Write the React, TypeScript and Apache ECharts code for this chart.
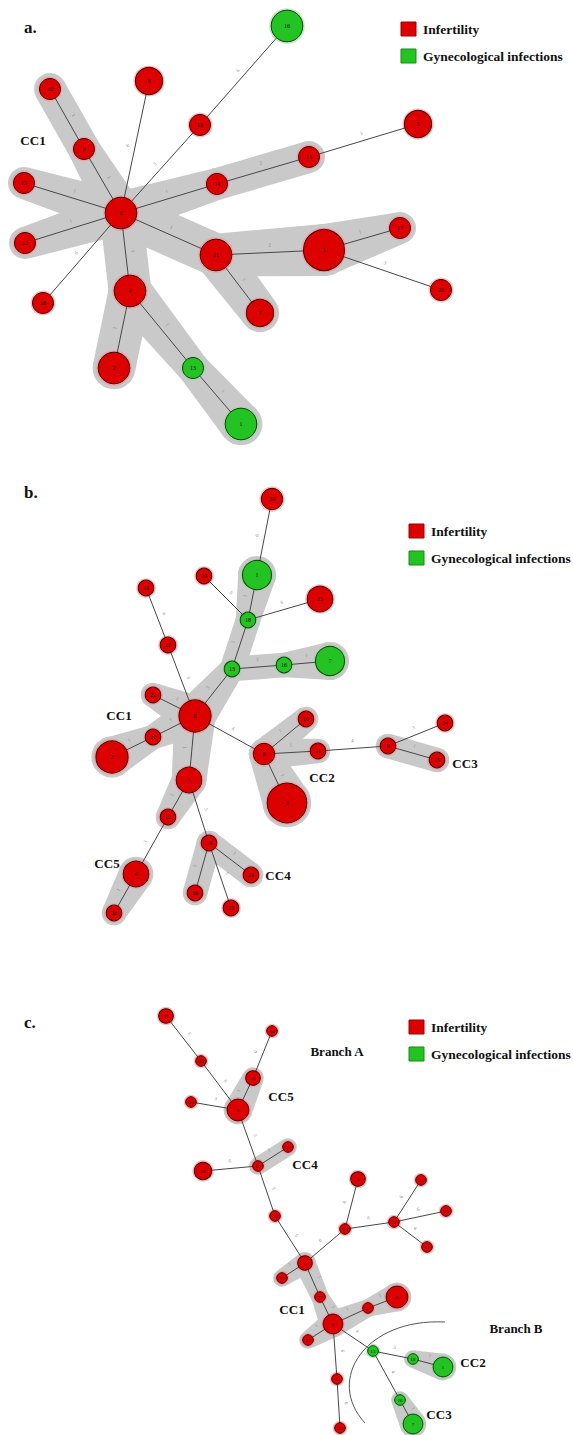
import React, { useEffect, useRef } from "react";
import * as echarts from "echarts";

const W = 573;
const H = 1435;

// [id, x, y, isolates, group]  group: R = Infertility, G = Gynecological infections
const nodesA: [string, number, number, number, string][] = [
  ["16", 287, 26, 3, "G"], ["8", 149, 81, 2, "R"], ["10", 50, 89, 1, "R"], ["9", 84, 149, 1, "R"],
  ["19", 200, 125, 1, "R"], ["15", 24, 183, 1, "R"], ["14", 217, 184, 1, "R"], ["6", 121, 213, 3, "R"],
  ["5", 418, 124, 2, "R"], ["11", 309, 157, 1, "R"], ["12", 25, 243, 1, "R"], ["18", 43, 303, 1, "R"],
  ["21", 216, 255, 3, "R"], ["4", 130, 291, 3, "R"], ["7", 260, 313, 2, "R"], ["2", 114, 368, 3, "R"],
  ["13", 193, 368, 1, "G"], ["1", 241, 424, 3, "G"], ["3", 324, 250, 6, "R"], ["17", 400, 228, 1, "R"],
  ["20", 441, 290, 1, "R"],
];
// [source, target, distance, inClonalComplex]
const edgesA: [string, string, number, number][] = [
  ["6", "9", 1, 1], ["9", "10", 1, 1], ["6", "8", 6, 0], ["6", "19", 3, 0], ["19", "16", 6, 0],
  ["6", "15", 1, 1], ["6", "14", 1, 1], ["14", "11", 2, 1], ["11", "5", 3, 0], ["6", "12", 1, 1],
  ["6", "18", 6, 0], ["6", "21", 1, 1], ["21", "3", 2, 1], ["3", "17", 1, 1], ["3", "20", 3, 0],
  ["21", "7", 1, 1], ["6", "4", 1, 1], ["4", "2", 1, 1], ["4", "13", 1, 1], ["13", "1", 1, 1],
];

const nodesB: [string, number, number, number, string][] = [
  ["30", 272, 499, 2, "R"], ["1", 257, 575, 4, "G"], ["20", 204, 576, 1, "R"], ["14", 146, 588, 1, "R"],
  ["25", 320, 599, 3, "R"], ["18", 248, 620, 1, "G"], ["27", 168, 645, 1, "R"], ["13", 232, 669, 1, "G"],
  ["16", 284, 665, 1, "G"], ["7", 330, 661, 4, "G"], ["22", 153, 695, 1, "R"], ["6", 195, 716, 5, "R"],
  ["21", 153, 737, 1, "R"], ["2", 112, 757, 5, "R"], ["5", 189, 780, 3, "R"], ["8", 264, 754, 2, "R"],
  ["10", 306, 719, 1, "R"], ["11", 318, 751, 1, "R"], ["3", 287, 803, 8, "R"], ["12", 168, 817, 1, "R"],
  ["19", 209, 843, 1, "R"], ["29", 251, 875, 1, "R"], ["26", 195, 893, 1, "R"], ["23", 231, 908, 1, "R"],
  ["4", 136, 874, 3, "R"], ["28", 114, 913, 1, "R"], ["9", 388, 746, 1, "R"], ["24", 445, 723, 1, "R"],
  ["15", 437, 760, 1, "R"],
];
const edgesB: [string, string, number, number][] = [
  ["30", "1", 6, 0], ["1", "18", 1, 1], ["18", "20", 6, 0], ["18", "25", 6, 0], ["18", "13", 1, 1],
  ["13", "16", 2, 1], ["16", "7", 1, 1], ["13", "6", 3, 1], ["14", "27", 6, 0], ["27", "6", 6, 0],
  ["22", "6", 1, 1], ["6", "21", 1, 1], ["21", "2", 1, 1], ["6", "5", 1, 1], ["5", "12", 1, 1],
  ["6", "8", 4, 0], ["8", "10", 1, 1], ["8", "11", 1, 1], ["8", "3", 1, 1], ["11", "9", 4, 0],
  ["9", "24", 3, 0], ["9", "15", 1, 1], ["12", "4", 3, 0], ["4", "28", 1, 1], ["5", "19", 5, 0],
  ["19", "26", 1, 1], ["19", "29", 1, 1], ["19", "23", 5, 0],
];

const nodesC: [string, number, number, number, string][] = [
  ["27", 166, 1016, 2, "R"], ["14", 272, 1031, 1, "R"], ["24", 201, 1061, 1, "R"], ["28", 253, 1078, 2, "R"],
  ["20", 191, 1102, 1, "R"], ["8", 238, 1110, 5, "R"], ["29", 288, 1147, 1, "R"], ["19", 258, 1166, 1, "R"],
  ["26", 203, 1171, 3, "R"], ["23", 275, 1216, 1, "R"], ["3", 358, 1179, 2, "R"], ["10", 345, 1229, 1, "R"],
  ["9", 394, 1222, 1, "R"], ["25", 421, 1180, 1, "R"], ["15", 446, 1211, 1, "R"], ["11", 427, 1247, 1, "R"],
  ["5", 305, 1263, 2, "R"], ["12", 282, 1278, 1, "R"], ["21", 320, 1297, 1, "R"], ["2", 397, 1297, 5, "R"],
  ["17", 368, 1308, 1, "R"], ["6", 333, 1324, 4, "R"], ["22", 308, 1340, 1, "R"], ["4", 337, 1379, 1, "R"],
  ["30", 340, 1428, 1, "R"], ["13", 373, 1351, 1, "G"], ["18", 413, 1359, 1, "G"], ["1", 443, 1367, 4, "G"],
  ["16", 400, 1400, 1, "G"], ["7", 413, 1424, 4, "G"],
];
const edgesC: [string, string, number, number][] = [
  ["27", "24", 6, 0], ["24", "8", 6, 0], ["14", "28", 6, 0], ["28", "8", 1, 1], ["20", "8", 3, 0],
  ["8", "19", 5, 0], ["19", "29", 1, 1], ["19", "26", 6, 0], ["19", "23", 5, 0], ["23", "5", 5, 0],
  ["5", "10", 6, 0], ["10", "3", 6, 0], ["10", "9", 6, 0], ["9", "25", 6, 0], ["9", "15", 6, 0],
  ["9", "11", 6, 0], ["5", "12", 1, 1], ["5", "21", 1, 1], ["21", "6", 1, 1], ["6", "17", 1, 1],
  ["17", "2", 1, 1], ["6", "22", 1, 1], ["6", "13", 4, 0], ["13", "18", 3, 0], ["18", "1", 1, 1],
  ["13", "16", 4, 0], ["16", "7", 1, 1], ["6", "4", 6, 0], ["4", "30", 6, 0],
];

const panelLetters = ["a.", "b.", "c."];
const legendNames = ["Infertility", "Gynecological infections"];
const ccLabelsA = ["CC1"];
const ccLabelsB = ["CC1", "CC2", "CC3", "CC4", "CC5"];
const ccLabelsC = ["Branch A", "CC5", "CC4", "CC1", "Branch B", "CC2", "CC3"];

const SERIF = "'Liberation Serif', 'Times New Roman', 'DejaVu Serif', serif";
const RED = "#dd0000";
const GREEN = "#22c322";
const SHADE = "#c9c9c9";

type Panel = {
  nodes: [string, number, number, number, string][];
  edges: [string, string, number, number][];
  rad: (c: number) => number;
  pad: number;
  fs: number;
};

const panels: Panel[] = [
  { nodes: nodesA, edges: edgesA, rad: (c) => 11 * Math.pow(c, 0.36), pad: 5, fs: 6 },
  { nodes: nodesB, edges: edgesB, rad: (c) => 8.3 * Math.pow(c, 0.43), pad: 4, fs: 6 },
  { nodes: nodesC, edges: edgesC, rad: (c) => 5.8 * Math.pow(c, 0.42), pad: 3, fs: 5 },
];

function buildOption() {
  const series: any[] = [];
  panels.forEach((p) => {
    const lookup: Record<string, [string, number, number, number, string]> = {};
    p.nodes.forEach((n) => (lookup[n[0]] = n));
    const shadeData = p.edges
      .filter((e) => e[3] === 1)
      .map((e) => {
        const s = lookup[e[0]];
        const t = lookup[e[1]];
        return [s[1], s[2], t[1], t[2], p.rad(s[3]) + p.pad, p.rad(t[3]) + p.pad];
      });
    series.push({
      type: "custom",
      coordinateSystem: "cartesian2d",
      silent: true,
      z: 1,
      encode: { x: [0, 2], y: [1, 3] },
      data: shadeData,
      renderItem: (params: any, api: any) => {
        const p1 = api.coord([api.value(0), api.value(1)]);
        const p2 = api.coord([api.value(2), api.value(3)]);
        const r1 = api.value(4);
        const r2 = api.value(5);
        const dx = p2[0] - p1[0];
        const dy = p2[1] - p1[1];
        const len = Math.sqrt(dx * dx + dy * dy) || 1;
        const nx = -dy / len;
        const ny = dx / len;
        const style = { fill: SHADE };
        return {
          type: "group",
          children: [
            {
              type: "polygon",
              shape: {
                points: [
                  [p1[0] + nx * r1, p1[1] + ny * r1],
                  [p2[0] + nx * r2, p2[1] + ny * r2],
                  [p2[0] - nx * r2, p2[1] - ny * r2],
                  [p1[0] - nx * r1, p1[1] - ny * r1],
                ],
              },
              style,
            },
            { type: "circle", shape: { cx: p1[0], cy: p1[1], r: r1 }, style },
            { type: "circle", shape: { cx: p2[0], cy: p2[1], r: r2 }, style },
          ],
        };
      },
    });
    series.push({
      type: "scatter",
      silent: true,
      z: 2,
      data: p.nodes.map((n) => ({
        value: [n[1], n[2]],
        symbolSize: 2 * p.rad(n[3]) + 3,
        itemStyle: { color: n[4] === "R" ? "rgba(240,150,150,0.75)" : "rgba(160,215,160,0.75)" },
      })),
    });
    series.push({
      type: "graph",
      coordinateSystem: "cartesian2d",
      layout: "none",
      silent: true,
      z: 3,
      symbol: "circle",
      data: p.nodes.map((n) => ({
        name: n[0],
        value: [n[1], n[2]],
        symbolSize: 2 * p.rad(n[3]) - 1,
        itemStyle: {
          color: n[4] === "R" ? RED : GREEN,
          borderColor: n[4] === "R" ? "#4a0000" : "#0d400d",
          borderWidth: 1,
        },
      })),
      links: p.edges.map((e) => ({ source: e[0], target: e[1], value: e[2] })),
      lineStyle: { color: "#474747", width: 1, opacity: 1 },
      label: {
        show: true,
        position: "inside",
        formatter: "{b}",
        fontSize: p.fs,
        fontFamily: SERIF,
        color: "#2a0000",
      },
      edgeLabel: {
        show: true,
        formatter: "{c}",
        fontSize: 5,
        fontFamily: SERIF,
        color: "#8a8a8a",
      },
    });
  });

  const letterY = [27, 492, 1022];
  const legendX = [401, 409, 409];
  const legendY = [[29, 56], [531, 558], [1027, 1054]];
  const graphic: any[] = [];
  letterY.forEach((y, i) => {
    graphic.push({
      type: "text",
      x: 24,
      y,
      style: { text: panelLetters[i], font: `bold 17px ${SERIF}`, fill: "#111", verticalAlign: "middle" },
    });
    [RED, GREEN].forEach((c, k) => {
      graphic.push({
        type: "rect",
        shape: { x: legendX[i], y: legendY[i][k] - 7, width: 15, height: 14 },
        style: { fill: c, stroke: k === 0 ? "#a00000" : "#1a8a1a", lineWidth: 1 },
      });
      graphic.push({
        type: "text",
        x: legendX[i] + 22,
        y: legendY[i][k],
        style: { text: legendNames[k], font: `bold 13.5px ${SERIF}`, fill: "#111", verticalAlign: "middle" },
      });
    });
  });
  const ccPos: [string[], [number, number][]][] = [
    [ccLabelsA, [[33, 140]]],
    [ccLabelsB, [[119, 715], [322, 777], [465, 763], [278, 875], [107, 863]]],
    [ccLabelsC, [[337, 1051], [281, 1096], [305, 1164], [292, 1309], [516, 1328], [473, 1362], [439, 1414]]],
  ];
  ccPos.forEach(([labels, pos]) => {
    labels.forEach((t, i) => {
      graphic.push({
        type: "text",
        x: pos[i][0],
        y: pos[i][1],
        style: { text: t, font: `bold 13px ${SERIF}`, fill: "#111", align: "center", verticalAlign: "middle" },
      });
    });
  });
  graphic.push({
    type: "bezierCurve",
    shape: { x1: 365, y1: 1423, x2: 445, y2: 1322, cpx1: 325, cpy1: 1380, cpx2: 365, cpy2: 1318 },
    style: { stroke: "#555", lineWidth: 1, fill: null },
  });

  return {
    animation: false,
    backgroundColor: "#fff",
    grid: { left: 0, right: 0, top: 0, bottom: 0 },
    xAxis: { type: "value", min: 0, max: W, show: false },
    yAxis: { type: "value", min: 0, max: H, inverse: true, show: false },
    series,
    graphic,
  };
}

export default function App() {
  const ref = useRef<HTMLDivElement>(null);
  useEffect(() => {
    const chart = echarts.init(ref.current!, null, { renderer: "svg" });
    chart.setOption(buildOption() as any);
    return () => chart.dispose();
  }, []);
  return (
    <div
      ref={ref}
      style={{ position: "absolute", left: 0, top: 0, width: W, height: H, background: "#fff" }}
    />
  );
}
